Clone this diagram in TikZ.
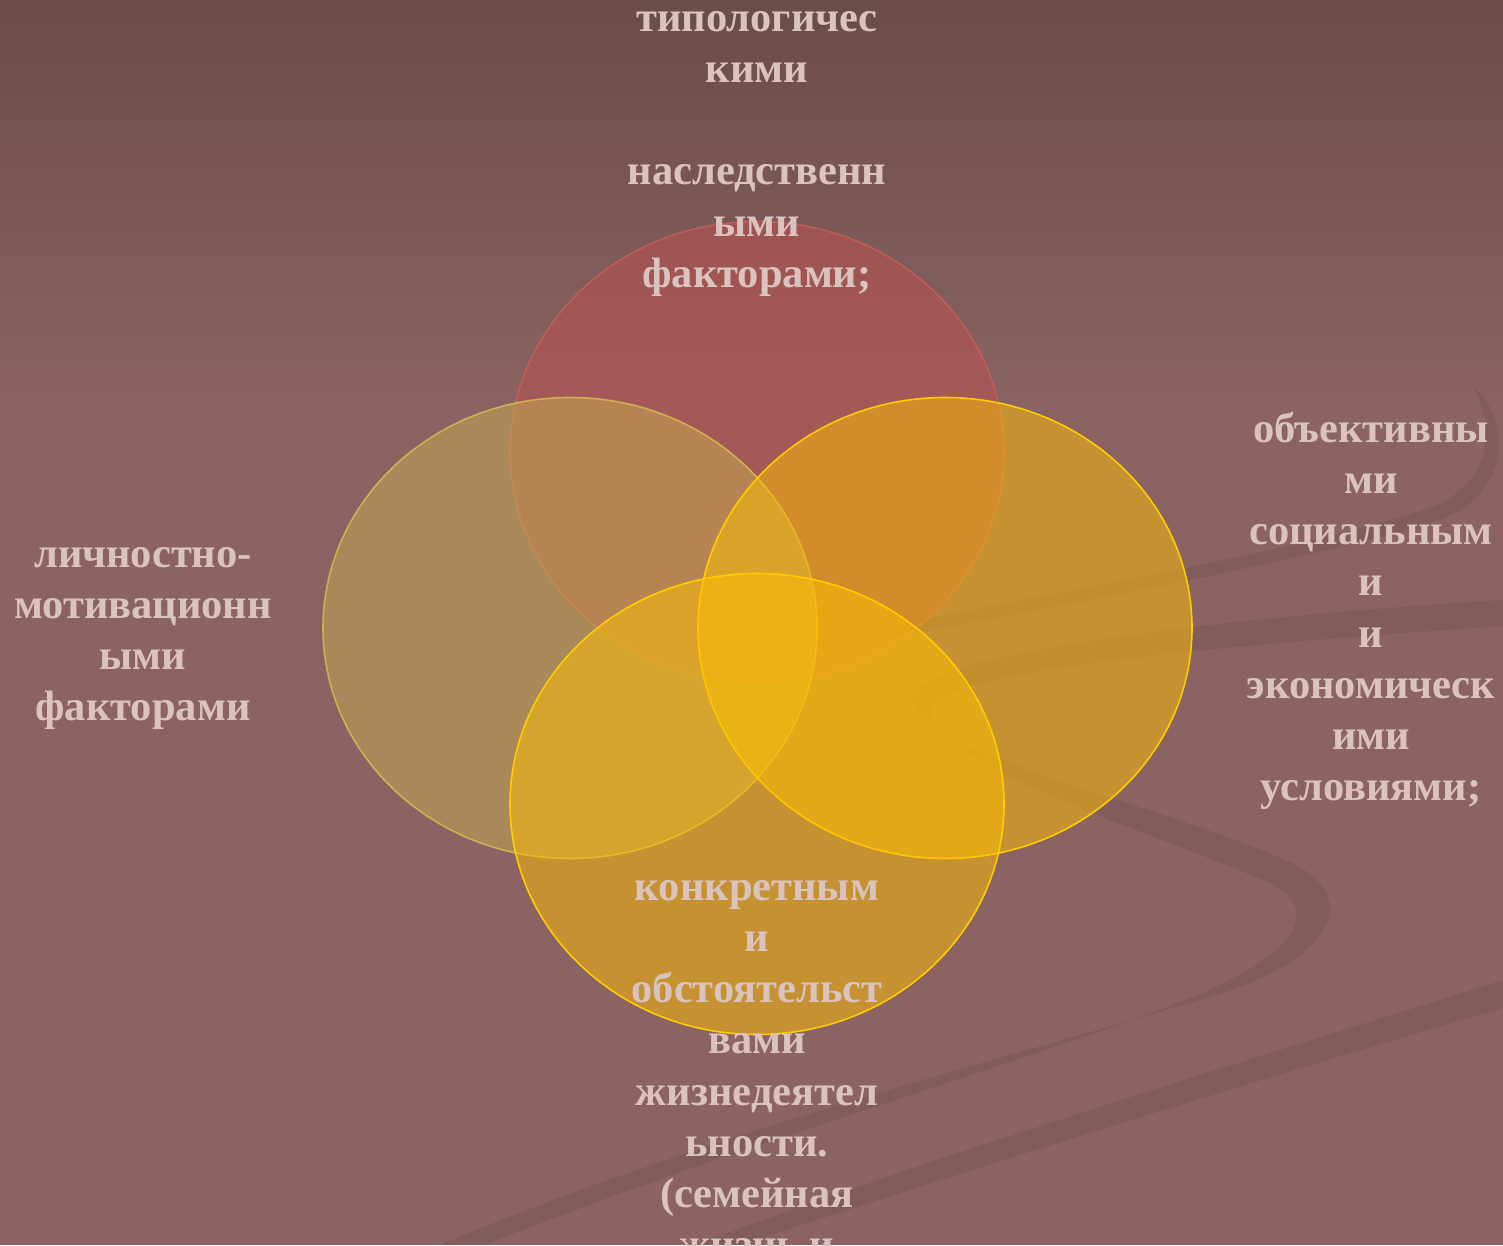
\documentclass[tikz,border=0pt]{standalone}
\usepackage{fontspec}
\setmainfont{Liberation Serif}
\usetikzlibrary{shapes.geometric}
\definecolor{bgtop}{HTML}{6A4C4B}
\definecolor{bgmid}{HTML}{8B6363}
\definecolor{txt}{HTML}{DAC3BF}
\definecolor{redfill}{HTML}{C0504D}
\definecolor{redline}{HTML}{C8605A}
\definecolor{olivefill}{HTML}{C8B050}
\definecolor{oliveline}{HTML}{D4BC50}
\definecolor{goldfill}{HTML}{FFC000}
\definecolor{goldline}{HTML}{FFCC00}
\begin{document}
\begin{tikzpicture}[x=1pt,y=-1pt,
  venn/.style={shape=ellipse, inner sep=0pt, minimum width=494pt, minimum height=461pt, line width=1.6pt},
  lbl/.style={inner sep=0pt, anchor=north, align=center, text=txt,
     font=\fontsize{42.5}{51.2}\selectfont\bfseries},
  band/.style={fill=black, opacity=0.065}]
\useasboundingbox (0,0) rectangle (1503,1245);
\clip (0,0) rectangle (1503,1245);
% background
\fill[bgmid] (0,410) rectangle (1503,1245);
\shade[top color=bgtop, bottom color=bgmid] (0,0) rectangle (1503,412);
% decorative bands
\fill[band] (1472,385) .. controls (1512,420) and (1512,492) .. (1440,520)
   .. controls (1300,562) and (1100,598) .. (880,640) -- (880,628)
   .. controls (1100,584) and (1300,550) .. (1430,508)
   .. controls (1492,484) and (1497,425) .. (1472,385) -- cycle;
\fill[band] (1503,600) .. controls (1300,612) and (950,645) .. (914,692)
   .. controls (888,745) and (1150,800) .. (1290,862)
   .. controls (1365,898) and (1335,962) .. (1200,1000)
   .. controls (1000,1060) and (700,1135) .. (440,1245) -- (485,1245)
   .. controls (720,1150) and (1000,1072) .. (1185,1000)
   .. controls (1300,955) and (1320,910) .. (1272,884)
   .. controls (1150,830) and (925,765) .. (932,707)
   .. controls (955,665) and (1300,640) .. (1503,626) -- cycle;
\fill[band] (1503,980) .. controls (1250,1060) and (950,1150) .. (695,1245)
   -- (740,1245) .. controls (1000,1160) and (1250,1082) .. (1503,1008) -- cycle;
% venn ellipses
\node[venn, fill=redfill, fill opacity=0.5, draw=redline, draw opacity=0.8] (cTop) at (757,452) {};
\node[venn, fill=olivefill, fill opacity=0.5, draw=oliveline, draw opacity=0.85] (cLeft) at (570,628) {};
\node[venn, fill=goldfill, fill opacity=0.5, draw=goldline] (cRight) at (945,628) {};
\node[venn, fill=goldfill, fill opacity=0.5, draw=goldline] (cBottom) at (757,804) {};
% labels
\node[lbl] (tTop) at (757,-4.8) {\strut типологичес\\кими\\\mbox{}\\наследственн\\ыми\\факторами;};
\node[lbl] (tLeft) at (143,531.2) {\strut личностно-\\мотивационн\\ыми\\факторами};
\node[lbl] (tRight) at (1371,406.2) {\strut объективны\\ми\\социальным\\и\\и\\экономическ\\ими\\условиями;};
\node[lbl] (tBottom) at (757,864.2) {\strut конкретным\\и\\обстоятельст\\вами\\жизнедеятел\\ьности.\\(семейная\\жизнь и};
\end{tikzpicture}
\end{document}
